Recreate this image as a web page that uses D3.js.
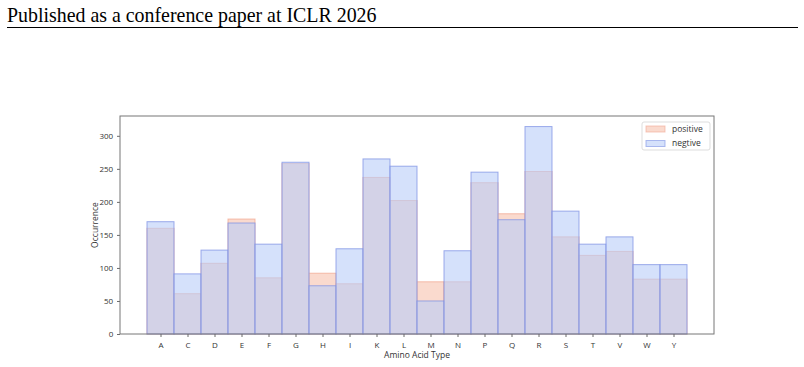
<!doctype html>
<html lang="en">
<head>
    <meta charset="UTF-8">
    <title>Amino acid occurrence</title>
    <style>
        body { margin: 0; background: #fff; }
        svg { display: block; }
    </style>
</head>
<body>
<div class="canvas"></div>
<script src="https://d3js.org/d3.v7.min.js"></script>
<script>
    const categories = ['A', 'C', 'D', 'E', 'F', 'G', 'H', 'I', 'K', 'L', 'M', 'N', 'P', 'Q', 'R', 'S', 'T', 'V', 'W', 'Y'];
    const positive = [160, 61, 107, 174, 85, 258, 92, 76, 237, 202, 79, 79, 229, 182, 246, 147, 119, 125, 83, 83];
    const negtive = [170, 91, 127, 168, 136, 260, 73, 129, 265, 254, 50, 126, 245, 173, 314, 186, 136, 147, 105, 105];
    const yTicks = [0, 50, 100, 150, 200, 250, 300];
    const seriesNames = ['positive', 'negtive'];

    const svgWidth = 804;
    const svgHeight = 367;
    const margin = { top: 116, right: 90, bottom: 33, left: 120 };
    const graphWidth = svgWidth - margin.left - margin.right;
    const graphHeight = svgHeight - margin.top - margin.bottom;

    const svg = d3.select('.canvas').append('svg')
        .attr('width', svgWidth)
        .attr('height', svgHeight);

    // page header
    svg.append('text')
        .attr('x', 7)
        .attr('y', 22)
        .attr('font-family', '"Liberation Serif", "DejaVu Serif", serif')
        .attr('font-size', 19.9)
        .attr('fill', '#000')
        .text('Published as a conference paper at ICLR 2026');
    svg.append('line')
        .attr('x1', 7).attr('x2', 798)
        .attr('y1', 27.5).attr('y2', 27.5)
        .attr('stroke', '#000')
        .attr('stroke-width', 1.2);

    const graph = svg.append('g')
        .attr('transform', `translate(${margin.left}, ${margin.top})`);

    // one empty bin each side of the bars
    const x = d3.scaleLinear()
        .domain([-1, categories.length + 1])
        .range([0, graphWidth]);
    const y = d3.scaleLinear()
        .domain([0, 330])
        .range([graphHeight, 0]);

    const colors = {
        positive: { fill: 'rgb(250,218,206)', stroke: 'rgb(242,168,146)', opacity: 1 },
        negtive: { fill: 'rgb(185,205,248)', stroke: 'rgb(125,145,228)', opacity: 0.6 }
    };

    const drawBars = (values, key) => {
        const c = colors[key];
        graph.append('g').selectAll('rect')
            .data(values)
            .join('rect')
            .attr('x', (d, i) => x(i))
            .attr('width', x(1) - x(0))
            .attr('y', d => y(d))
            .attr('height', d => graphHeight - y(d))
            .attr('fill', c.fill)
            .attr('fill-opacity', c.opacity)
            .attr('stroke', c.stroke)
            .attr('stroke-opacity', 0.75)
            .attr('stroke-width', 1);
    };
    drawBars(positive, 'positive');
    drawBars(negtive, 'negtive');

    // axes
    const font = '"Open Sans", "DejaVu Sans", sans-serif';
    const xAxis = d3.axisBottom(x)
        .tickValues(categories.map((c, i) => i + 0.5))
        .tickFormat((d, i) => categories[i])
        .tickSize(3)
        .tickSizeOuter(0);
    const yAxis = d3.axisLeft(y)
        .tickValues(yTicks)
        .tickSize(3)
        .tickSizeOuter(0);

    const xAxisGroup = graph.append('g')
        .attr('transform', `translate(0, ${graphHeight})`)
        .call(xAxis);
    const yAxisGroup = graph.append('g').call(yAxis);

    [xAxisGroup, yAxisGroup].forEach(g => {
        g.select('.domain').remove();
        g.selectAll('line').attr('stroke', '#444').attr('stroke-width', 0.8);
        g.selectAll('text')
            .attr('font-family', font)
            .attr('font-size', 8)
            .attr('fill', '#333');
    });
    xAxisGroup.selectAll('text').attr('dy', '0.95em');
    yAxisGroup.selectAll('text').attr('dx', '-0.1em');

    // frame
    graph.append('rect')
        .attr('width', graphWidth)
        .attr('height', graphHeight)
        .attr('fill', 'none')
        .attr('stroke', '#777')
        .attr('stroke-width', 1);

    graph.append('text')
        .attr('x', graphWidth / 2)
        .attr('y', graphHeight + 24)
        .attr('text-anchor', 'middle')
        .attr('font-family', font)
        .attr('font-size', 8.5)
        .attr('fill', '#333')
        .text('Amino Acid Type');
    graph.append('text')
        .attr('transform', `translate(-22, ${graphHeight / 2}) rotate(-90)`)
        .attr('text-anchor', 'middle')
        .attr('font-family', font)
        .attr('font-size', 8.5)
        .attr('fill', '#333')
        .text('Occurrence');

    // legend
    const legend = graph.append('g')
        .attr('transform', `translate(${graphWidth - 72}, 6)`);
    legend.append('rect')
        .attr('width', 68)
        .attr('height', 28)
        .attr('rx', 2)
        .attr('fill', '#fff')
        .attr('fill-opacity', 0.8)
        .attr('stroke', '#ddd');
    seriesNames.forEach((name, i) => {
        const c = colors[name];
        legend.append('rect')
            .attr('x', 4)
            .attr('y', 4 + i * 14.5)
            .attr('width', 19)
            .attr('height', 6)
            .attr('fill', c.fill)
            .attr('fill-opacity', c.opacity)
            .attr('stroke', c.stroke)
            .attr('stroke-opacity', 0.6);
        legend.append('text')
            .attr('x', 30)
            .attr('y', 7 + i * 14.5)
            .attr('dy', '0.35em')
            .attr('font-family', font)
            .attr('font-size', 8.5)
            .attr('fill', '#333')
            .text(name);
    });
</script>
</body>
</html>
